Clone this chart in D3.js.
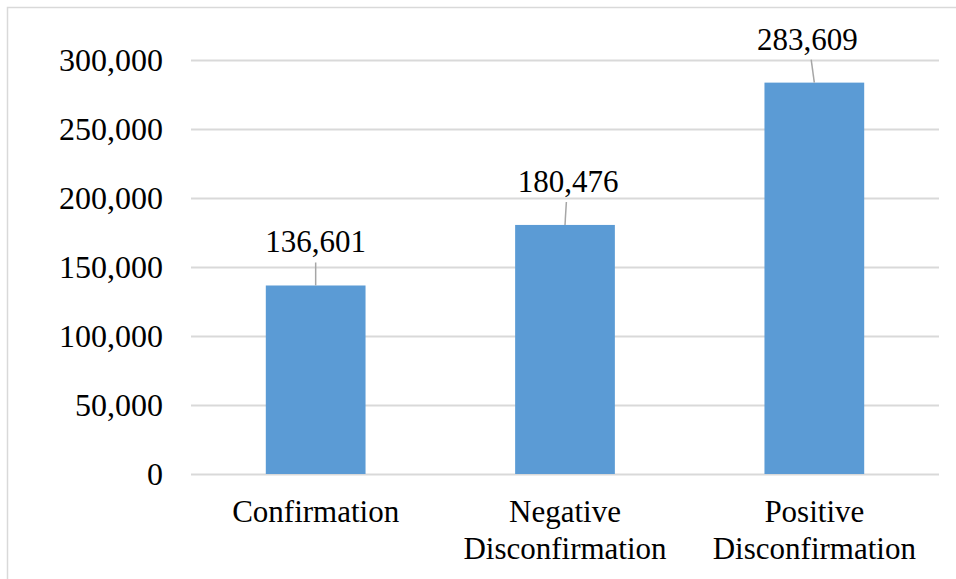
<!DOCTYPE html>
<html>
<head>
<meta charset="utf-8">
<script src="https://cdn.jsdelivr.net/npm/d3@7"></script>
<style>
  html, body { margin: 0; padding: 0; background: #fff; }
  svg { display: block; }
  text { font-family: "Liberation Serif", "Times New Roman", serif; fill: #000; }
</style>
</head>
<body>
<svg id="chart" width="956" height="579"></svg>
<script>
// Data
const categories = [["Confirmation"], ["Negative", "Disconfirmation"], ["Positive", "Disconfirmation"]];
const categoryKeys = ["Confirmation", "Negative Disconfirmation", "Positive Disconfirmation"];
const values = [136601, 180476, 283609];
const yTicks = [0, 50000, 100000, 150000, 200000, 250000, 300000];
// label offsets (label centre relative to bar centre, in px) for the leader-line callouts
const labelShift = [0, 3, -7];

const svg = d3.select("#chart");
const W = 956, H = 579;

// chart frame
svg.append("rect")
  .attr("x", 7.5).attr("y", 7.5)
  .attr("width", W + 10).attr("height", H + 10)
  .attr("fill", "#fff").attr("stroke", "#d9d9d9").attr("stroke-width", 1.5);

const plot = { left: 191, right: 939, top: 60, bottom: 474 };

const x = d3.scaleBand()
  .domain(categoryKeys)
  .range([plot.left, plot.right])
  .paddingInner(0.6)
  .paddingOuter(0.3);

const y = d3.scaleLinear()
  .domain([0, 300000])
  .range([plot.bottom, plot.top]);

const fmt = d3.format(",");

// gridlines
svg.append("g")
  .selectAll("line")
  .data(yTicks)
  .join("line")
  .attr("x1", plot.left).attr("x2", plot.right)
  .attr("y1", d => Math.round(y(d)) + 0.5).attr("y2", d => Math.round(y(d)) + 0.5)
  .attr("stroke", "#d9d9d9").attr("stroke-width", 2);

// y axis labels
const yAxis = d3.axisLeft(y).tickValues(yTicks).tickFormat(fmt).tickSize(0).tickPadding(0);
const yg = svg.append("g").attr("transform", `translate(${163},0)`).call(yAxis);
yg.select(".domain").remove();
yg.selectAll("text")
  .attr("font-family", "Liberation Serif, Times New Roman, serif")
  .attr("font-size", 32)
  .attr("fill", "#000")
  .attr("dy", "0.33em");

// bars
svg.append("g")
  .selectAll("rect")
  .data(values)
  .join("rect")
  .attr("x", (d, i) => x(categoryKeys[i]))
  .attr("y", d => y(d))
  .attr("width", x.bandwidth())
  .attr("height", d => y(0) - y(d))
  .attr("fill", "#5b9bd5");

// value labels with leader lines
const lab = svg.append("g");
values.forEach((v, i) => {
  const cx = x(categoryKeys[i]) + x.bandwidth() / 2;
  const lx = cx + labelShift[i];
  const top = y(v);
  const baseline = top - 33;
  lab.append("line")
    .attr("x1", lx - labelShift[i] * 0.55).attr("y1", baseline + 10)
    .attr("x2", cx).attr("y2", top)
    .attr("stroke", "#a6a6a6").attr("stroke-width", 1.5);
  lab.append("text")
    .attr("x", lx).attr("y", baseline)
    .attr("text-anchor", "middle")
    .attr("font-size", 31)
    .text(fmt(v));
});

// category labels
const cg = svg.append("g");
categories.forEach((lines, i) => {
  const cx = x(categoryKeys[i]) + x.bandwidth() / 2;
  const t = cg.append("text")
    .attr("x", cx).attr("y", 522)
    .attr("text-anchor", "middle")
    .attr("font-size", 31);
  lines.forEach((ln, j) => {
    t.append("tspan").attr("x", cx).attr("dy", j === 0 ? 0 : 37).text(ln);
  });
});
</script>
</body>
</html>
